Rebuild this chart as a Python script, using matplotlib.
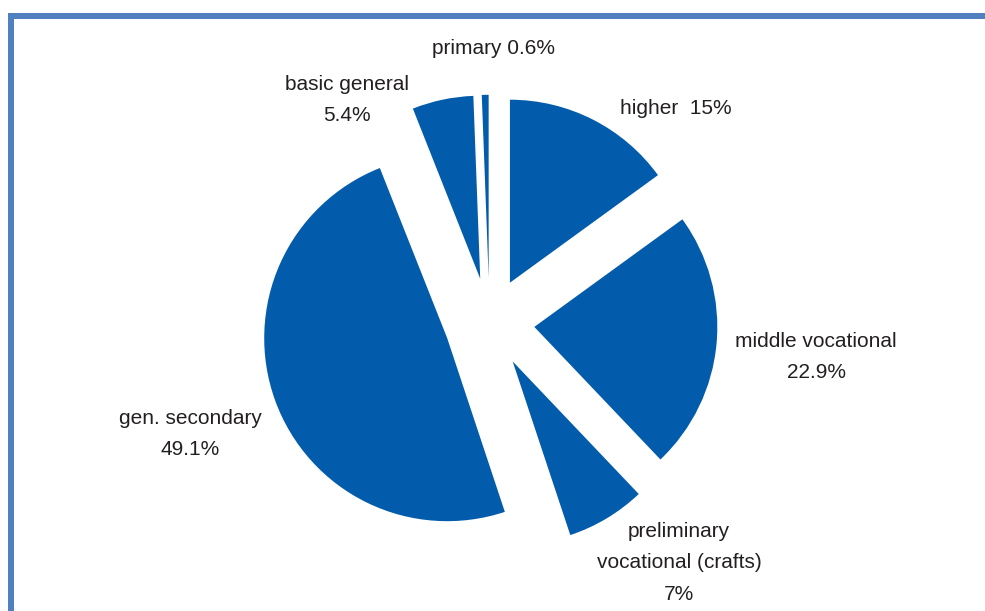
import matplotlib.pyplot as plt
from matplotlib.lines import Line2D

plt.rcParams["font.family"] = ["Liberation Sans", "DejaVu Sans"]

# share of population by education level, clockwise from the top
levels = ["higher", "middle vocational", "preliminary\nvocational (crafts)",
          "gen. secondary", "basic general", "primary"]
shares = [15, 22.9, 7, 49.1, 5.4, 0.6]
separators = ["  ", "\n", "\n", "\n", "\n", " "]

# label anchor points in pixel space (x, y from top)
label_pos = [(676, 108), (816, 357), (679, 563), (190, 434), (347, 100), (494, 48)]

W, H = 985, 611
BLUE = "#035CAB"
FRAME = "#5080C0"
TEXT = "#231F20"

fig = plt.figure(figsize=(W / 100, H / 100), dpi=100)
ax = fig.add_axes([0, 0, 1, 1])

# explode offsets are in data units (pixels here)
ax.pie(shares, center=(489.5, H - 322.8), radius=183, startangle=90,
       counterclock=False, explode=[45] * len(shares), colors=[BLUE] * len(shares),
       wedgeprops=dict(linewidth=0))

for name, val, sep, (x, y) in zip(levels, shares, separators, label_pos):
    ax.text(x, H - y, f"{name}{sep}{val:g}%", ha="center", va="center",
            fontsize=15, color=TEXT, linespacing=1.82)

ax.set_xlim(0, W)
ax.set_ylim(0, H)
ax.set_aspect("equal")
ax.axis("off")

# border along the top and left edges
fig.add_artist(Line2D([8 / W, 1], [1 - 16 / H, 1 - 16 / H], color=FRAME,
                      linewidth=4.3, solid_capstyle="butt"))
fig.add_artist(Line2D([11 / W, 11 / W], [0, 1 - 13 / H], color=FRAME,
                      linewidth=4.3, solid_capstyle="butt"))

fig.savefig("out.png", dpi=100, facecolor="white")
